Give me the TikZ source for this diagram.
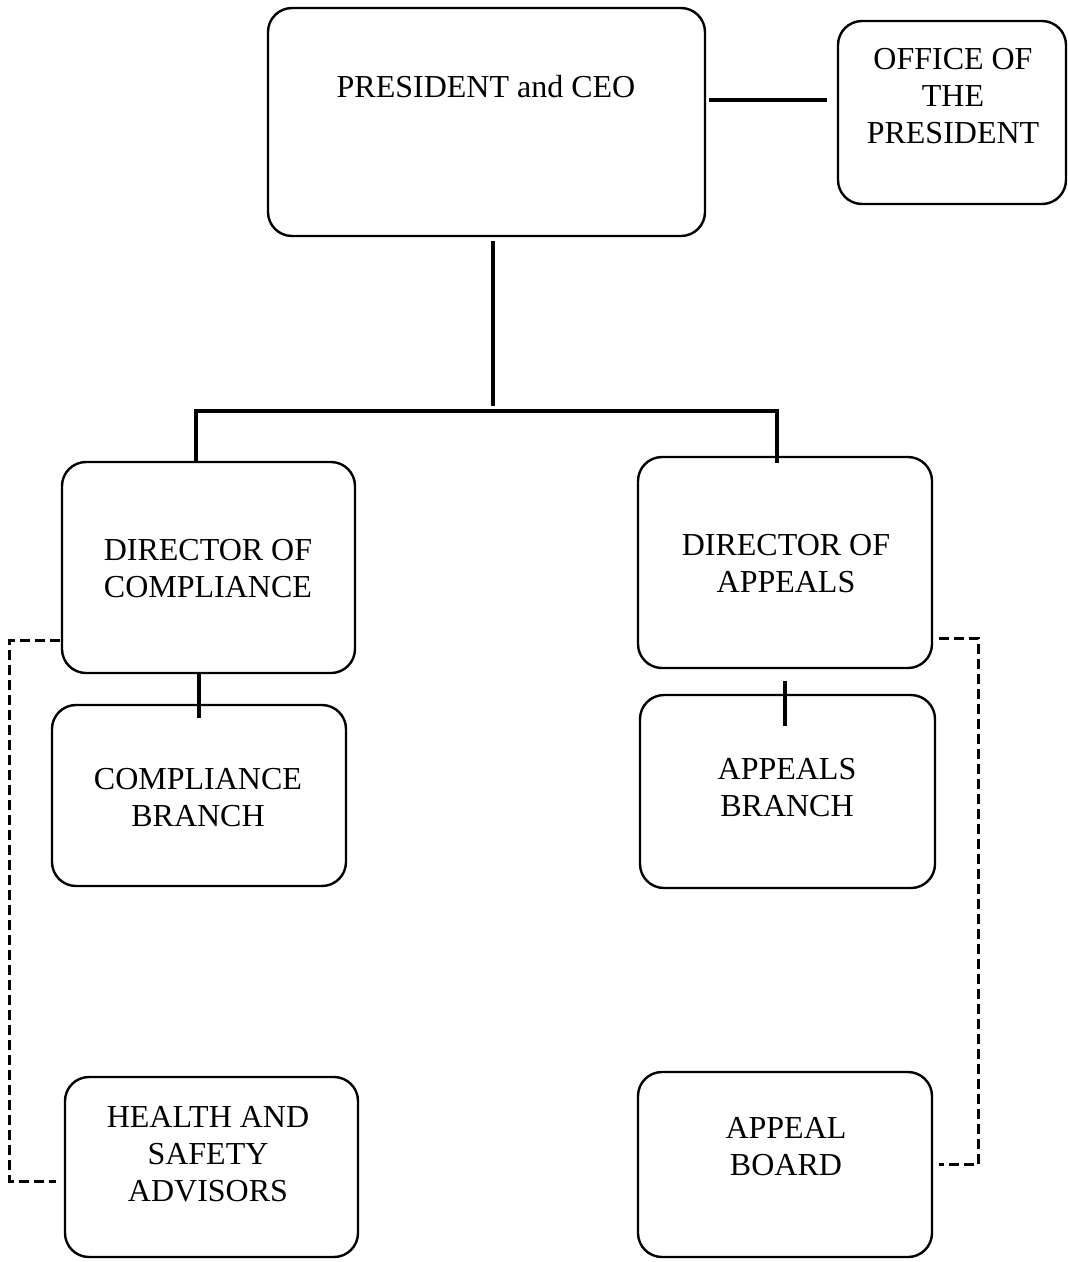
\documentclass[tikz,border=0pt]{standalone}
\usepackage{fontspec}
\setmainfont{Liberation Serif}
\usetikzlibrary{calc}
\begin{document}
\begin{tikzpicture}[x=1pt,y=-1pt,
  box/.style={draw, line width=2.4pt, rounded corners=24pt, inner sep=0pt},
  lbl/.style={align=center, inner sep=0pt, font=\fontsize{32}{37}\selectfont},
  conn/.style={line width=3.4pt},
  dsh/.style={line width=3pt, dash pattern=on 10pt off 5pt}]
\useasboundingbox (0,0) rectangle (1068,1262);
% boxes
\node[box, minimum width=437pt, minimum height=228pt] (ceo) at (486.5,122) {};
\node[box, minimum width=228pt, minimum height=183pt] (office) at (952,112.5) {};
\node[box, minimum width=293pt, minimum height=211pt] (dcomp) at (208.5,567.5) {};
\node[box, minimum width=294pt, minimum height=211pt] (dapp) at (785,562.5) {};
\node[box, minimum width=294pt, minimum height=181pt] (cbr) at (199,795.5) {};
\node[box, minimum width=295pt, minimum height=193pt] (abr) at (787.5,791.5) {};
\node[box, minimum width=293pt, minimum height=180pt] (hsa) at (211.5,1167) {};
\node[box, minimum width=294pt, minimum height=185pt] (aboard) at (785,1164.5) {};
% texts
\node[lbl] (ceo-t) at (486,87) {PRESIDENT and CEO};
\node[lbl] (office-t) at (953,96) {OFFICE OF\\THE\\PRESIDENT};
\node[lbl] (dcomp-t) at (208,569) {DIRECTOR OF\\COMPLIANCE};
\node[lbl] (dapp-t) at (786,564) {DIRECTOR OF\\APPEALS};
\node[lbl] (cbr-t) at (198,798) {COMPLIANCE\\BRANCH};
\node[lbl] (abr-t) at (787,788) {APPEALS\\BRANCH};
\node[lbl] (hsa-t) at (208,1154) {HEALTH AND\\SAFETY\\ADVISORS};
\node[lbl] (aboard-t) at (786,1147) {APPEAL\\BOARD};
% connectors
\draw[conn] ($(ceo.north east)+(3,93)$) -- ($(office.north west)+(-10,80)$);
\draw[conn] ($(ceo.south)+(6.5,4)$) -- ++(0,165);
\draw[conn] ($(dcomp.north west)+(135,0)$) -- ++(0,-50) -| ($(dapp.north west)+(140,7)$);
\draw[conn] ($(dcomp.south west)+(138,0)$) -- ($(cbr.north west)+(148,14)$);
\draw[conn] ($(dapp.south west)+(148,12)$) -- ($(abr.north west)+(146,32)$);
\draw[dsh] ($(dcomp.west)+(-1,72.5)$) -- ++(-50,0) |- ($(hsa.west)+(-8,14)$);
\draw[dsh] ($(dapp.east)+(6,75.5)$) -- ++(39,0) |- ($(aboard.east)+(6,0)$);
\end{tikzpicture}
\end{document}
